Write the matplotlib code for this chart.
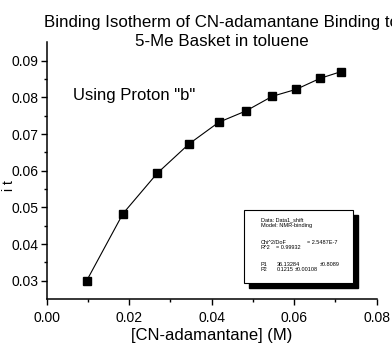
import matplotlib
matplotlib.use("Agg")
import matplotlib.pyplot as plt
from matplotlib.patches import Rectangle

plt.rcParams['font.family'] = ['Liberation Sans', 'DejaVu Sans']

# data
conc = [0.0097, 0.0185, 0.0268, 0.0345, 0.0417, 0.0483, 0.0547, 0.0605, 0.0663, 0.0713]
shift = [0.0300, 0.0483, 0.0593, 0.0673, 0.0732, 0.0763, 0.0803, 0.0822, 0.0852, 0.0870]

xticks = [0.00, 0.02, 0.04, 0.06, 0.08]
yticks = [0.03, 0.04, 0.05, 0.06, 0.07, 0.08, 0.09]

fit_lines = [
    ("Data: Data1_shift", 0.665, 0.383),
    ("Model: NMR-binding", 0.665, 0.367),
    ("Chi^2/DoF", 0.665, 0.320),
    ("= 2.5487E-7", 0.783, 0.320),
    ("R^2", 0.665, 0.306),
    ("= 0.99932", 0.703, 0.306),
    ("P1", 0.665, 0.256),
    ("36.13284", 0.707, 0.256),
    ("\u00b10.8089", 0.816, 0.256),
    ("P2", 0.665, 0.242),
    ("0.1215", 0.707, 0.242),
    ("\u00b10.00108", 0.752, 0.242),
]

fig = plt.figure(figsize=(3.92, 3.56), dpi=100)
ax = fig.add_axes([0.119, 0.160, 0.842, 0.723])

ax.plot(conc, shift, color='black', lw=0.8, marker='s', ms=5.8,
        mfc='black', mec='black')

ax.set_xlim(0, 0.08)
ax.set_ylim(0.025, 0.0952)
ax.set_xticks(xticks)
ax.set_yticks(yticks)
ax.set_xticks([0.01, 0.03, 0.05, 0.07], minor=True)
ax.set_yticks([0.035, 0.045, 0.055, 0.065, 0.075, 0.085], minor=True)
ax.set_xticklabels(["%.2f" % v for v in xticks])
ax.set_yticklabels(["%.2f" % v for v in yticks])

for s in ['top', 'right']:
    ax.spines[s].set_visible(False)
for s in ['left', 'bottom']:
    ax.spines[s].set_linewidth(1.1)

ax.tick_params(axis='both', which='major', direction='out', length=4.5,
               width=1, labelsize=10)
ax.tick_params(axis='both', which='minor', direction='out', length=2.5, width=1)
ax.tick_params(axis='y', which='major', pad=1.5)
ax.tick_params(axis='x', which='major', pad=4)

ax.set_xlabel("[CN-adamantane] (M)", fontsize=12, labelpad=2)
fig.text(0.024, 0.480, "i t", rotation=90, fontsize=10, ha='center', va='center')

ax.text(0.00645, 0.0804, 'Using Proton "b"', fontsize=12, va='center', ha='left')

fig.text(0.5656, 0.925, "Binding Isotherm of CN-adamantane Binding to",
         fontsize=12.2, ha='center', va='baseline')
fig.text(0.5656, 0.872, "5-Me Basket in toluene",
         fontsize=12.2, ha='center', va='baseline')

# fit result box with drop shadow
fig.patches.append(Rectangle((0.6360, 0.1902), 0.2765, 0.2059, transform=fig.transFigure,
                             facecolor='black', edgecolor='black', zorder=5))
fig.patches.append(Rectangle((0.6232, 0.2042), 0.2765, 0.2059, transform=fig.transFigure,
                             facecolor='white', edgecolor='black', lw=0.8, zorder=6))
for txt, x, y in fit_lines:
    fig.text(x, y, txt, fontsize=4, ha='left', va='center', zorder=7)

fig.savefig("out.png", dpi=100)
